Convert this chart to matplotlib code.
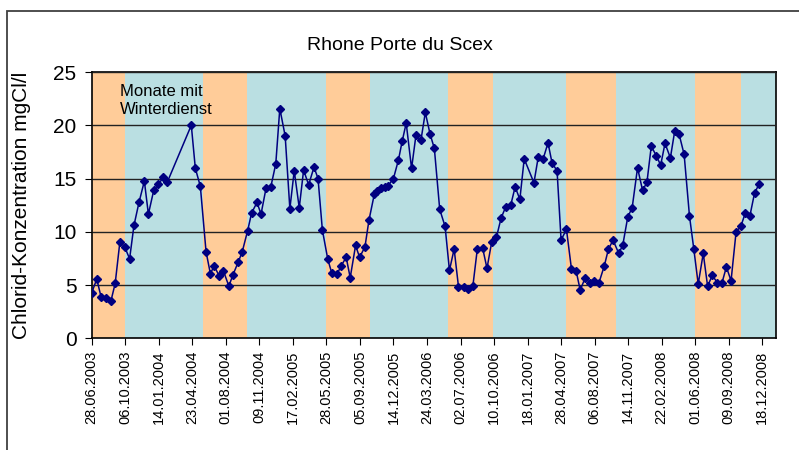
import matplotlib
matplotlib.use('Agg')
import matplotlib.pyplot as plt
import matplotlib.dates as mdates
from matplotlib.patches import Rectangle
import numpy as np
import pandas as pd

plt.rcParams['font.family'] = ['Liberation Sans', 'DejaVu Sans']

# sample dates and chloride values
dates = [
    '2003-06-28', '2003-07-13', '2003-07-26', '2003-08-09', '2003-08-24', '2003-09-06',
    '2003-09-20', '2003-10-04', '2003-10-19', '2003-11-01', '2003-11-16', '2003-12-02',
    '2003-12-14', '2003-12-30', '2004-01-13', '2004-01-27', '2004-02-08', '2004-04-20',
    '2004-05-02', '2004-05-17', '2004-06-03', '2004-06-16', '2004-06-27', '2004-07-12',
    '2004-07-25', '2004-08-10', '2004-08-22', '2004-09-07', '2004-09-19', '2004-10-05',
    '2004-10-17', '2004-11-02', '2004-11-14', '2004-11-29', '2004-12-13', '2004-12-28',
    '2005-01-09', '2005-01-25', '2005-02-08', '2005-02-21', '2005-03-08', '2005-03-21',
    '2005-04-05', '2005-04-21', '2005-05-03', '2005-05-16', '2005-06-01', '2005-06-13',
    '2005-06-29', '2005-07-11', '2005-07-26', '2005-08-07', '2005-08-23', '2005-09-04',
    '2005-09-20', '2005-10-02', '2005-10-18', '2005-10-27', '2005-11-08', '2005-11-19',
    '2005-11-28', '2005-12-14', '2005-12-29', '2006-01-09', '2006-01-21', '2006-02-06',
    '2006-02-19', '2006-03-06', '2006-03-19', '2006-04-02', '2006-04-15', '2006-05-01',
    '2006-05-17', '2006-05-30', '2006-06-13', '2006-06-26', '2006-07-11', '2006-07-25',
    '2006-08-08', '2006-08-21', '2006-09-06', '2006-09-19', '2006-10-03', '2006-10-17',
    '2006-10-31', '2006-11-14', '2006-11-29', '2006-12-12', '2006-12-26', '2007-01-08',
    '2007-02-06', '2007-02-19', '2007-03-05', '2007-03-20', '2007-04-01', '2007-04-16',
    '2007-04-28', '2007-05-14', '2007-05-29', '2007-06-12', '2007-06-24', '2007-07-09',
    '2007-07-22', '2007-08-05', '2007-08-19', '2007-09-04', '2007-09-16', '2007-09-30',
    '2007-10-17', '2007-10-29', '2007-11-13', '2007-11-26', '2007-12-12', '2007-12-27',
    '2008-01-09', '2008-01-22', '2008-02-06', '2008-02-19', '2008-03-03', '2008-03-19',
    '2008-04-01', '2008-04-14', '2008-04-29', '2008-05-15', '2008-05-28', '2008-06-10',
    '2008-06-25', '2008-07-08', '2008-07-22', '2008-08-06', '2008-08-20', '2008-09-02',
    '2008-09-16', '2008-10-01', '2008-10-15', '2008-10-28', '2008-11-11', '2008-11-25',
    '2008-12-09',
]
chlorid = [
    4.28, 5.56, 3.87, 3.75, 3.47, 5.16,
    9.06, 8.6, 7.47, 10.6, 12.76, 14.76,
    11.66, 13.9, 14.45, 15.1, 14.63, 20.0,
    15.97, 14.26, 8.13, 6.06, 6.81, 5.87,
    6.31, 4.9, 5.94, 7.16, 8.13, 10.1,
    11.78, 12.75, 11.66, 14.1, 14.19, 16.38,
    21.57, 19.0, 12.16, 15.72, 12.25, 15.79,
    14.41, 16.07, 15.0, 10.16, 7.44, 6.12,
    6.03, 6.81, 7.6, 5.69, 8.72, 7.6,
    8.59, 11.1, 13.54, 13.8, 14.07, 14.2,
    14.33, 15.0, 16.76, 18.5, 20.2, 15.95,
    19.04, 18.6, 21.2, 19.2, 17.82, 12.1,
    10.5, 6.38, 8.38, 4.84, 4.84, 4.6,
    4.94, 8.35, 8.47, 6.57, 9.03, 9.47,
    11.28, 12.35, 12.53, 14.22, 13.04, 16.85,
    14.6, 17.04, 16.79, 18.35, 16.47, 15.72,
    9.22, 10.23, 6.5, 6.31, 4.53, 5.69,
    5.22, 5.35, 5.22, 6.81, 8.35, 9.22,
    7.97, 8.75, 11.41, 12.25, 16.0, 13.9,
    14.63, 18.04, 17.13, 16.26, 18.3, 16.94,
    19.47, 19.16, 17.26, 11.47, 8.35, 5.09,
    7.97, 4.9, 5.91, 5.22, 5.22, 6.69,
    5.41, 10.0, 10.5, 11.72, 11.47, 13.63,
    14.5,
]

# months with winter service (blue bands), the rest is summer (orange)
winter_start = ['2003-10-05', '2004-10-04', '2005-10-04', '2006-10-07', '2007-10-08', '2008-10-16']
winter_end = ['2004-05-26', '2005-05-27', '2006-05-26', '2007-05-13', '2008-05-31', '2009-01-28']

x_start = '2003-06-28'
x_end = '2009-01-28'
tick_dates = pd.date_range('2003-06-28', '2008-12-18', freq='100D')

fig = plt.figure(figsize=(7.99, 4.5), dpi=100)
ax = fig.add_axes([0.1148, 0.2482, 0.9712 - 0.1148, 0.84 - 0.2482])

ax.set_facecolor('#FFCC99')
for s, e in zip(winter_start, winter_end):
    ax.axvspan(pd.Timestamp(s), pd.Timestamp(e), color='#BADFE2', lw=0, zorder=0)

ax.plot(pd.to_datetime(dates), chlorid, '-D', color='#000080', lw=1.1,
        markersize=4.0, zorder=3)

ax.set_xlim(pd.Timestamp(x_start), pd.Timestamp(x_end))
ax.set_ylim(0, 25)
ax.set_yticks(np.arange(0, 26, 5))
ax.yaxis.grid(True, color='#222222', lw=1.0, zorder=1)
ax.set_axisbelow(False)

ax.set_xticks(tick_dates)
ax.xaxis.set_major_formatter(mdates.DateFormatter('%d.%m.%Y'))
ax.tick_params(axis='x', labelrotation=90, labelsize=10.5, length=5, pad=4)
ax.tick_params(axis='y', labelsize=15, length=5, pad=6)

for sp in ax.spines.values():
    sp.set_color('black')
    sp.set_linewidth(1.2)

ax.set_ylabel('Chlorid-Konzentration mgCl/l', fontsize=15)
ax.yaxis.set_label_coords(-0.089, 0.5)

fig.text(0.5, 1 - 45 / 450, 'Rhone Porte du Scex', ha='center', va='center', fontsize=14)
ax.text(pd.Timestamp('2003-09-20'), 23.9, 'Monate mit\nWinterdienst', fontsize=12,
        ha='left', va='top', linespacing=1.3, zorder=4)

# outer chart border
fig.patches.append(Rectangle((7 / 799, -0.1), 1.2, 1 - 11 / 450 + 0.1, transform=fig.transFigure,
                             fill=False, edgecolor='#404040', lw=1.3))

fig.savefig('out.png', dpi=100)
